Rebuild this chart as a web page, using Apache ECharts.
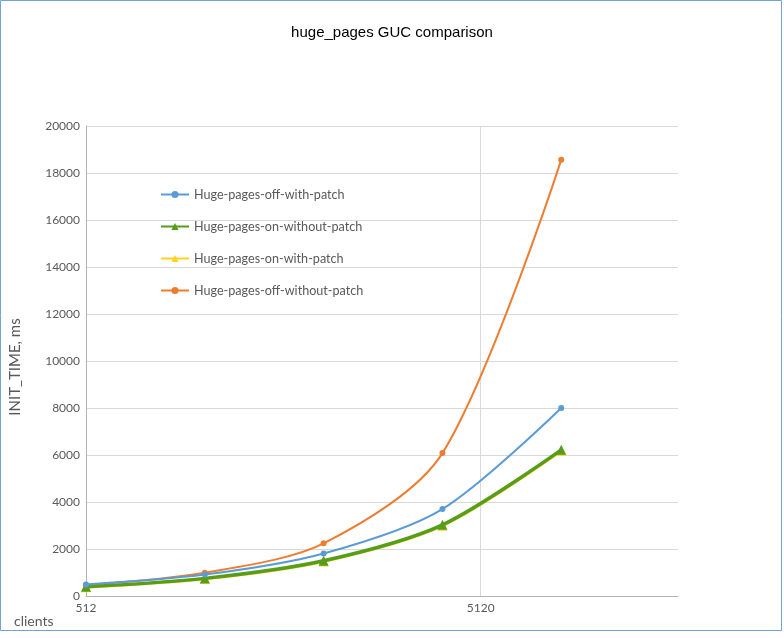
<!DOCTYPE html>
<html>
<head>
<meta charset="utf-8">
<script src="https://cdn.jsdelivr.net/npm/echarts@6/dist/echarts.min.js"></script>
<style>
  html, body { margin: 0; padding: 0; background: #fff; }
  #chart { width: 784px; height: 638px; }
</style>
</head>
<body>
<div id="chart"></div>
<script>
var clients = [512, 1024, 2048, 4096, 8192];
var xLabels = [512, 5120];

var offWithPatch = [490, 910, 1810, 3700, 8000];
var onWithoutPatch = [390, 750, 1500, 3030, 6220];
var onWithPatch = [370, 730, 1470, 2990, 6180];
var offWithoutPatch = [470, 990, 2240, 6080, 18560];

function pairs(values) {
  return clients.map(function (c, i) { return [c, values[i]]; });
}

var chart = echarts.init(document.getElementById('chart'));

var textColor = '#595959';
var font = 'Lato, "Open Sans", sans-serif';

var option = {
  backgroundColor: '#fff',
  animation: false,
  title: {
    text: 'huge_pages GUC comparison',
    left: 'center',
    top: 20,
    textStyle: {
      fontFamily: '"Liberation Sans", Arial, sans-serif',
      fontSize: 15,
      fontWeight: 'normal',
      color: '#000'
    }
  },
  graphic: [{
    type: 'rect',
    shape: { x: 0.5, y: 0.5, width: 781, height: 630 },
    style: { fill: 'none', stroke: '#72a2d8', lineWidth: 1 },
    silent: true
  }],
  legend: {
    orient: 'vertical',
    left: 160,
    top: 188,
    padding: 0,
    itemWidth: 28,
    itemHeight: 9,
    itemGap: 19,
    textStyle: { fontFamily: font, fontSize: 12.6, color: textColor },
    data: ['Huge-pages-off-with-patch', 'Huge-pages-on-without-patch',
           'Huge-pages-on-with-patch', 'Huge-pages-off-without-patch']
  },
  grid: {
    left: 86,
    right: 106,
    top: 126,
    bottom: 42
  },
  xAxis: {
    type: 'log',
    logBase: 10,
    min: 512,
    max: 16190.8,
    name: 'clients',
    nameLocation: 'start',
    nameGap: 72,
    nameTextStyle: {
      fontFamily: font,
      fontSize: 14,
      color: textColor,
      align: 'left',
      verticalAlign: 'top',
      padding: [18, 0, 0, 0]
    },
    axisLine: { lineStyle: { color: '#b3b3b3' } },
    axisTick: { show: false, customValues: xLabels },
    axisLabel: {
      customValues: xLabels,
      fontFamily: font,
      fontSize: 12,
      color: textColor,
      margin: 6,
      formatter: function (v) { return String(Math.round(v)); }
    },
    splitLine: { show: true, lineStyle: { color: '#d9d9d9' } }
  },
  yAxis: {
    type: 'value',
    min: 0,
    max: 20000,
    interval: 2000,
    name: 'INIT_TIME, ms',
    nameLocation: 'middle',
    nameGap: 63,
    nameTextStyle: {
      fontFamily: font,
      fontSize: 15,
      color: textColor,
      padding: [0, 12, 0, 0]
    },
    axisLine: { show: true, lineStyle: { color: '#b3b3b3' } },
    axisTick: { show: false },
    axisLabel: {
      fontFamily: font,
      fontSize: 12,
      color: textColor,
      margin: 6,
      formatter: function (v) { return String(v); }
    },
    splitLine: { lineStyle: { color: '#d9d9d9' } }
  },
  series: [
    {
      name: 'Huge-pages-off-with-patch',
      type: 'line',
      smooth: 0.3,
      symbol: 'circle',
      symbolSize: 6,
      z: 4,
      color: '#5b9bd5',
      lineStyle: { width: 2 },
      data: pairs(offWithPatch)
    },
    {
      name: 'Huge-pages-on-without-patch',
      type: 'line',
      smooth: 0.3,
      symbol: 'triangle',
      symbolSize: 10,
      z: 3,
      color: '#579d1c',
      lineStyle: { width: 3.5 },
      data: pairs(onWithoutPatch)
    },
    {
      name: 'Huge-pages-on-with-patch',
      type: 'line',
      smooth: 0.3,
      symbol: 'triangle',
      symbolSize: 10,
      z: 2,
      color: '#ffd320',
      lineStyle: { width: 3 },
      data: pairs(onWithPatch)
    },
    {
      name: 'Huge-pages-off-without-patch',
      type: 'line',
      smooth: 0.3,
      symbol: 'circle',
      symbolSize: 6,
      z: 2,
      color: '#ed7d31',
      lineStyle: { width: 2 },
      data: pairs(offWithoutPatch)
    }
  ]
};

chart.setOption(option);
</script>
</body>
</html>
